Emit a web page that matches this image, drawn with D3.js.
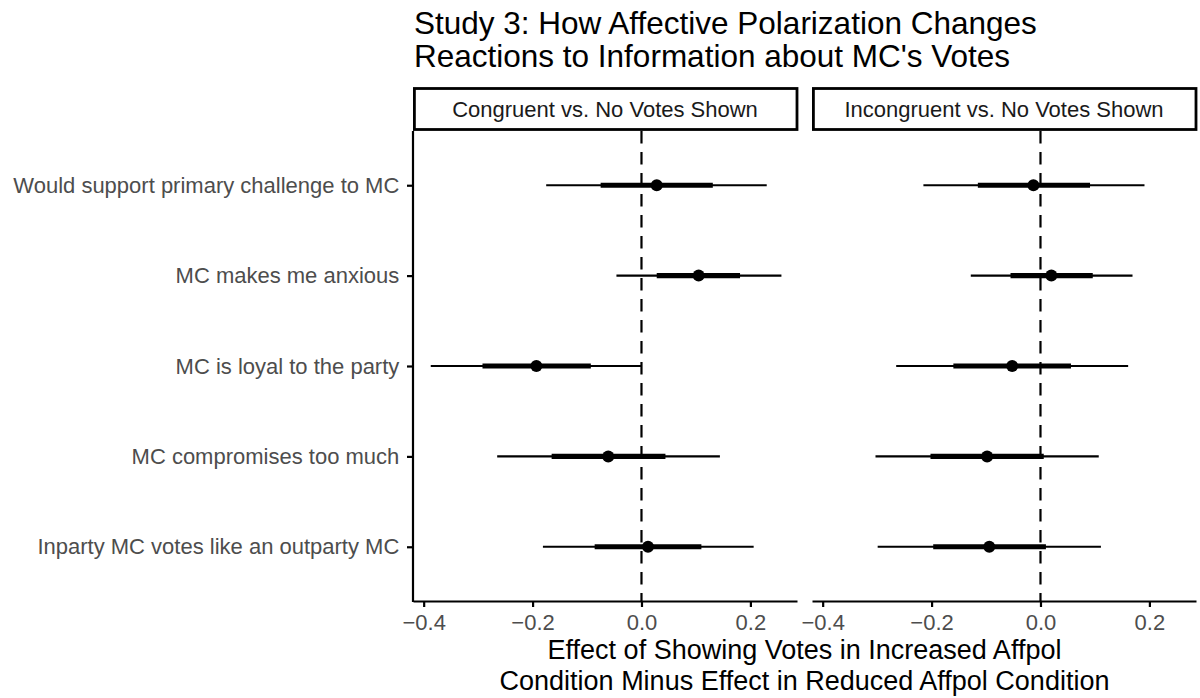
<!DOCTYPE html>
<html>
<head>
<meta charset="utf-8">
<script src="https://cdn.jsdelivr.net/npm/d3@7"></script>
<style>
  body { margin: 0; background: #fff; }
  svg { font-family: "Liberation Sans", Arial, Helvetica, sans-serif; }
</style>
</head>
<body>
<svg id="chart"></svg>
<script>
// outcomes, top to bottom
const outcomes = [
    "Would support primary challenge to MC",
    "MC makes me anxious",
    "MC is loyal to the party",
    "MC compromises too much",
    "Inparty MC votes like an outparty MC"
];
const panels = ["Congruent vs. No Votes Shown", "Incongruent vs. No Votes Shown"];

// Congruent vs. No Votes Shown
const congruentEst = [0.028, 0.105, -0.193, -0.061, 0.012];
const congruentCI95 = [[-0.175, 0.230], [-0.046, 0.257], [-0.387, 0.000], [-0.265, 0.144], [-0.181, 0.206]];
const congruentCI68 = [[-0.075, 0.131], [0.028, 0.181], [-0.292, -0.093], [-0.165, 0.044], [-0.086, 0.110]];

// Incongruent vs. No Votes Shown
const incongruentEst = [-0.013, 0.020, -0.052, -0.098, -0.094];
const incongruentCI95 = [[-0.215, 0.191], [-0.128, 0.169], [-0.265, 0.161], [-0.303, 0.107], [-0.299, 0.111]];
const incongruentCI68 = [[-0.115, 0.091], [-0.055, 0.096], [-0.160, 0.056], [-0.202, 0.006], [-0.197, 0.010]];

const xTicks = [-0.4, -0.2, 0.0, 0.2];
const xDomain = [-0.4196, 0.2856];

const titleLines = ["Study 3: How Affective Polarization Changes", "Reactions to Information about MC's Votes"];
const xLabelLines = ["Effect of Showing Votes in Increased Affpol", "Condition Minus Effect in Reduced Affpol Condition"];

class CoefPlot {

    constructor(config) {
        this.config = {
            parent: config.parent,
            width: config.width || 1200,
            height: config.height || 698,
            panelLeft: 413,
            panelWidth: 384,
            panelGap: 15,
            panelTop: 131,
            panelBottom: 601,
            stripTop: 88.5
        };
        this.init();
    }

    init() {
        let self = this;
        const c = self.config;

        self.svg = d3.select(c.parent)
            .attr('width', c.width)
            .attr('height', c.height);

        self.yscale = d3.scalePoint()
            .domain(outcomes)
            .range([c.panelTop, c.panelBottom])
            .padding(0.6);

        self.panelData = [
            outcomes.map((o, i) => ({ o: o, est: congruentEst[i], ci95: congruentCI95[i], ci68: congruentCI68[i] })),
            outcomes.map((o, i) => ({ o: o, est: incongruentEst[i], ci95: incongruentCI95[i], ci68: incongruentCI68[i] }))
        ];

        // title
        self.svg.append('text')
            .style('font-size', '31.5px')
            .selectAll('tspan').data(titleLines).enter()
            .append('tspan')
            .attr('x', c.panelLeft + 1)
            .attr('y', (d, i) => 34 + i * 33)
            .text(d => d);

        // y axis on the first panel only
        const yaxis = d3.axisLeft(self.yscale).tickSize(6).tickSizeOuter(0);
        const yg = self.svg.append('g')
            .attr('transform', `translate(${c.panelLeft}, 0)`)
            .call(yaxis);
        yg.select('.domain').attr('stroke', '#000').attr('stroke-width', 2.2)
            .attr('d', `M0,${c.panelTop}V${c.panelBottom + 1.1}`);
        yg.selectAll('.tick line').attr('stroke', '#000').attr('stroke-width', 2.2);
        yg.selectAll('.tick text')
            .attr('x', -13.7)
            .attr('fill', '#4d4d4d')
            .style('font-size', '22px')
            .attr('font-family', null);

        panels.forEach((p, k) => self.renderPanel(k));

        // x axis title
        const cx = c.panelLeft + c.panelWidth + c.panelGap / 2;
        self.svg.append('text')
            .attr('text-anchor', 'middle')
            .style('font-size', '27px')
            .selectAll('tspan').data(xLabelLines).enter()
            .append('tspan')
            .attr('x', cx)
            .attr('y', (d, i) => 658.5 + i * 31.5)
            .text(d => d);
    }

    renderPanel(k) {
        let self = this;
        const c = self.config;
        const x0 = c.panelLeft + k * (c.panelWidth + c.panelGap);

        const xscale = d3.scaleLinear()
            .domain(xDomain)
            .range([x0, x0 + c.panelWidth]);

        const g = self.svg.append('g');

        // strip
        g.append('rect')
            .attr('x', x0 + 1.4)
            .attr('y', c.stripTop)
            .attr('width', c.panelWidth - 1.4)
            .attr('height', c.panelTop - 1.5 - c.stripTop)
            .attr('fill', '#fff')
            .attr('stroke', '#000')
            .attr('stroke-width', 2.8);
        g.append('text')
            .attr('x', x0 + c.panelWidth / 2)
            .attr('y', (c.stripTop + c.panelTop - 1.5) / 2)
            .attr('dy', '0.35em')
            .attr('text-anchor', 'middle')
            .attr('fill', '#1a1a1a')
            .style('font-size', '22px')
            .text(panels[k]);

        // reference line at zero
        g.append('line')
            .attr('x1', xscale(0)).attr('x2', xscale(0))
            .attr('y1', c.panelTop).attr('y2', c.panelBottom)
            .attr('stroke', '#000')
            .attr('stroke-width', 2.2)
            .attr('stroke-dasharray', '12.5,8.5');

        const data = self.panelData[k];

        g.selectAll('.ci95').data(data).enter()
            .append('line')
            .attr('class', 'ci95')
            .attr('x1', d => xscale(d.ci95[0]))
            .attr('x2', d => xscale(d.ci95[1]))
            .attr('y1', d => self.yscale(d.o))
            .attr('y2', d => self.yscale(d.o))
            .attr('stroke', '#000')
            .attr('stroke-width', 2.1);

        g.selectAll('.ci68').data(data).enter()
            .append('line')
            .attr('class', 'ci68')
            .attr('x1', d => xscale(d.ci68[0]))
            .attr('x2', d => xscale(d.ci68[1]))
            .attr('y1', d => self.yscale(d.o))
            .attr('y2', d => self.yscale(d.o))
            .attr('stroke', '#000')
            .attr('stroke-width', 5.2);

        g.selectAll('circle').data(data).enter()
            .append('circle')
            .attr('cx', d => xscale(d.est))
            .attr('cy', d => self.yscale(d.o))
            .attr('r', 6)
            .attr('fill', '#000');

        // x axis
        const xaxis = d3.axisBottom(xscale)
            .tickValues(xTicks)
            .tickSize(6)
            .tickSizeOuter(0)
            .tickFormat(d => d3.format('.1f')(d).replace('-', '\u2212'));

        const xg = self.svg.append('g')
            .attr('transform', `translate(0, ${c.panelBottom})`)
            .call(xaxis);
        xg.select('.domain').attr('stroke', '#000').attr('stroke-width', 2.2);
        xg.selectAll('.tick line').attr('stroke', '#000').attr('stroke-width', 2.2);
        xg.selectAll('.tick text')
            .attr('y', 28.5)
            .attr('dy', 0)
            .attr('fill', '#4d4d4d')
            .style('font-size', '22px')
            .attr('font-family', null);
    }
}

new CoefPlot({ parent: '#chart', width: 1200, height: 698 });
</script>
</body>
</html>
